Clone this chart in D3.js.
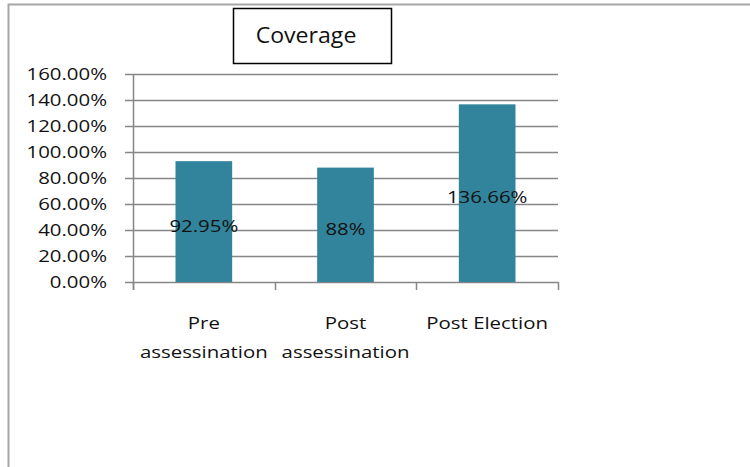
<!DOCTYPE html>
<html><head><meta charset="utf-8">
<script src="https://cdn.jsdelivr.net/npm/d3@7/dist/d3.min.js"></script>
<style>body{margin:0;background:#fff}svg{display:block}text{font-family:"Open Sans",sans-serif;fill:#111}</style>
</head><body><svg id="c" width="750" height="467"></svg>
<script>
const categories = [["Pre","assessination"],["Post","assessination"],["Post Election"]];
const values = [92.95, 88, 136.66];
const valueLabels = ["92.95%","88%","136.66%"];
const yTicks = [0,20,40,60,80,100,120,140,160];
const title = "Coverage";

const svg = d3.select("#c");
const SX = 1.2, FS = 17;
const L = 133, R = 558, T = 74, B = 282;
const x = d3.scaleBand().domain(d3.range(values.length)).range([L,R]).paddingInner(0.6).paddingOuter(0.3);
const y = d3.scaleLinear().domain([0,160]).range([B,T]);

// outer border
svg.append("path").attr("d","M8.5,467 V4.5 H750").attr("fill","none").attr("stroke","#a6a6a6").attr("stroke-width",2);

// gridlines
svg.append("g").selectAll("line").data(yTicks).join("line")
  .attr("x1",L-8).attr("x2",R).attr("y1",d=>Math.round(y(d))+0.5).attr("y2",d=>Math.round(y(d))+0.5)
  .attr("stroke","#868686").attr("stroke-width",1.5);

// y axis line
svg.append("line").attr("x1",L+0.5).attr("x2",L+0.5).attr("y1",T).attr("y2",B+8).attr("stroke","#868686").attr("stroke-width",1.5);
// x tick marks at band boundaries
const bounds = [L, ...d3.range(1,values.length).map(i=>L+(R-L)*i/values.length), R];
svg.append("g").selectAll("line").data(bounds).join("line")
  .attr("x1",d=>Math.round(d)+0.5).attr("x2",d=>Math.round(d)+0.5).attr("y1",B).attr("y2",B+8)
  .attr("stroke","#868686").attr("stroke-width",1.5);

// bars
svg.append("g").selectAll("rect").data(values).join("rect")
  .attr("x",(d,i)=>x(i)).attr("width",x.bandwidth())
  .attr("y",d=>y(d)).attr("height",d=>B-y(d)).attr("fill","#31849b");

// y tick labels
svg.append("g").selectAll("g").data(yTicks).join("g")
  .attr("transform",d=>`translate(107,${y(d)}) scale(${SX},1)`)
  .append("text").attr("text-anchor","end").attr("dy","0.36em").attr("font-size",FS)
  .text(d=>d.toFixed(2)+"%");

// data labels
svg.append("g").selectAll("g").data(values).join("g")
  .attr("transform",(d,i)=>`translate(${x(i)+x.bandwidth()/2},${y(d/2)+4}) scale(${SX},1)`)
  .append("text").attr("text-anchor","middle").attr("dy","0.36em").attr("font-size",FS)
  .text((d,i)=>valueLabels[i]);

// category labels
const cg = svg.append("g").selectAll("g").data(categories).join("g")
  .attr("transform",(d,i)=>`translate(${(bounds[i]+bounds[i+1])/2},${B+41}) scale(${SX},1)`);
cg.each(function(lines){
  const g = d3.select(this);
  lines.forEach((t,k)=>g.append("text").attr("text-anchor","middle").attr("dy","0.36em").attr("y",k*29).attr("font-size",FS).text(t));
});

// title box
svg.append("rect").attr("x",233.5).attr("y",8.5).attr("width",158).attr("height",55).attr("fill","#fff").attr("stroke","#000").attr("stroke-width",1.5);
svg.append("g").attr("transform",`translate(306,35) scale(1.1,1)`)
  .append("text").attr("text-anchor","middle").attr("dy","0.36em").attr("font-size",21).text(title);
</script></body></html>
